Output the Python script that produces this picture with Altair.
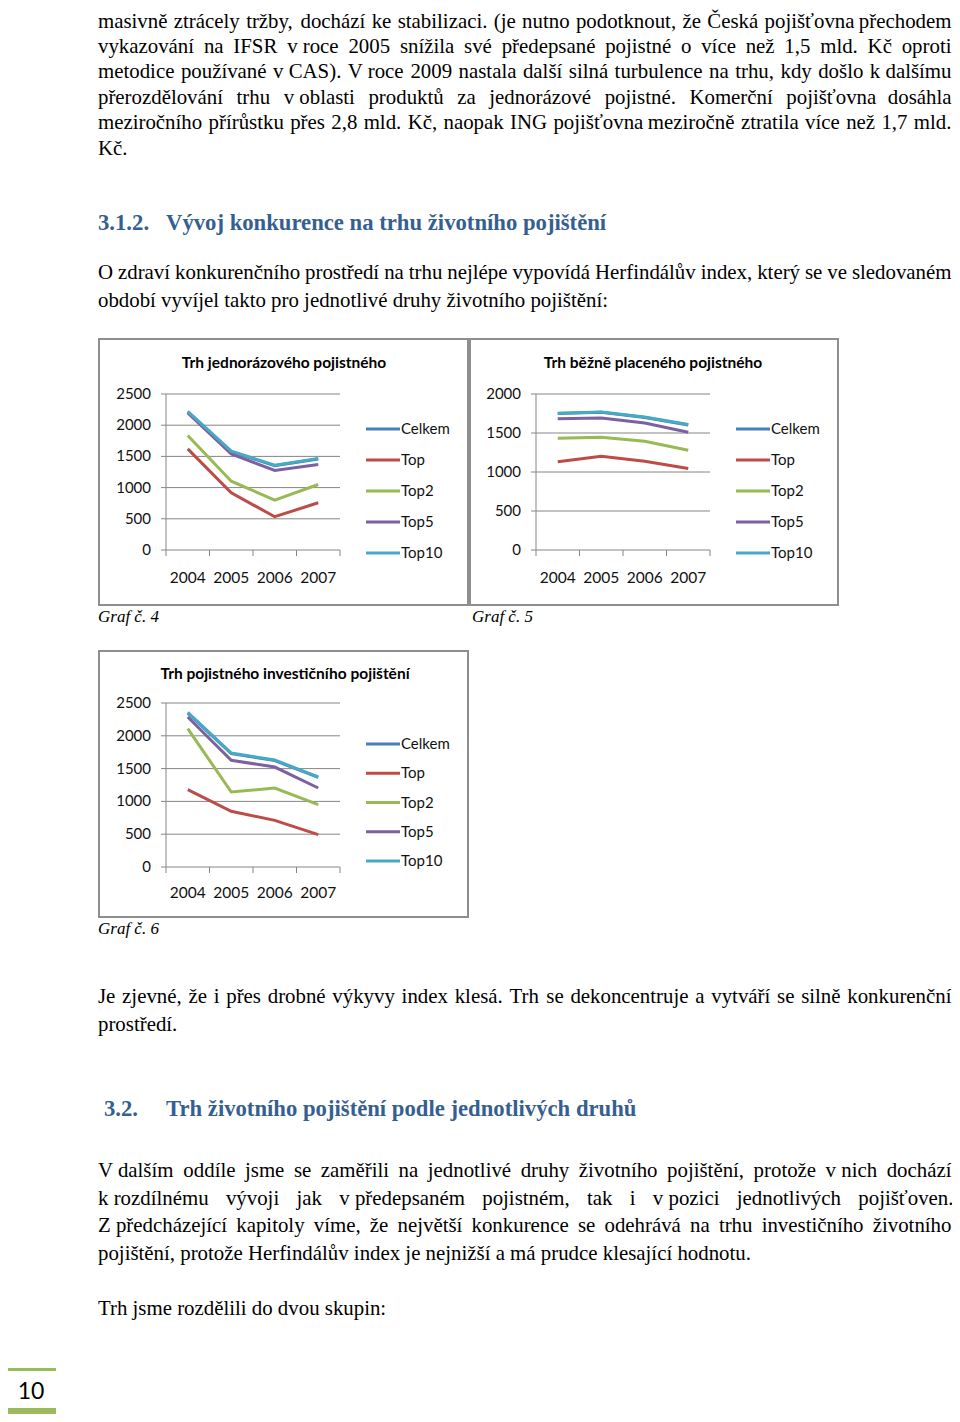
import unicodedata
import altair as alt
import pandas as pd

# ---------------- data ----------------
YEARS = [2004, 2005, 2006, 2007]
SERIES = ["Celkem", "Top", "Top2", "Top5", "Top10"]
COLORS = ["#4A7EBB", "#BE4B48", "#98B954", "#7D60A0", "#46AAC5"]

# Chart 4: Trh jednorázového pojistného
c4_celkem = [2212, 1575, 1352, 1460]
c4_top = [1620, 917, 533, 757]
c4_top2 = [1834, 1103, 800, 1050]
c4_top5 = [2196, 1540, 1274, 1370]
c4_top10 = [2223, 1583, 1359, 1466]

# Chart 5: Trh běžně placeného pojistného
c5_celkem = [1750, 1765, 1700, 1602]
c5_top = [1130, 1203, 1139, 1045]
c5_top2 = [1433, 1446, 1394, 1279]
c5_top5 = [1684, 1693, 1629, 1510]
c5_top10 = [1753, 1770, 1706, 1608]

# Chart 6: Trh pojistného investičního pojištění
c6_celkem = [2345, 1728, 1622, 1365]
c6_top = [1179, 849, 711, 493]
c6_top2 = [2109, 1143, 1204, 950]
c6_top5 = [2287, 1626, 1524, 1204]
c6_top10 = [2358, 1738, 1631, 1372]

TICKS_2500 = [0, 500, 1000, 1500, 2000, 2500]
TICKS_2000 = [0, 500, 1000, 1500, 2000]

TITLE4 = "Trh jednorázového pojistného"
TITLE5 = "Trh běžně placeného pojistného"
TITLE6 = "Trh pojistného investičního pojištění"

PARA1 = [
    "masivně ztrácely tržby, dochází ke stabilizaci. (je nutno podotknout, že Česká pojišťovna přechodem",
    "vykazování na IFSR v roce 2005 snížila své předepsané pojistné o více než 1,5 mld. Kč oproti",
    "metodice používané v CAS). V roce 2009 nastala další silná turbulence na trhu, kdy došlo k dalšímu",
    "přerozdělování trhu v oblasti produktů za jednorázové pojistné. Komerční pojišťovna dosáhla",
    "meziročního přírůstku přes 2,8 mld. Kč, naopak ING pojišťovna meziročně ztratila více než 1,7 mld.",
    "Kč.",
]
HEAD1_NUM = "3.1.2."
HEAD1 = "Vývoj konkurence na trhu životního pojištění"
PARA2 = [
    "O zdraví konkurenčního prostředí na trhu nejlépe vypovídá Herfindálův index, který se ve sledovaném",
    "období vyvíjel takto pro jednotlivé druhy životního pojištění:",
]
CAP4 = "Graf č. 4"
CAP5 = "Graf č. 5"
CAP6 = "Graf č. 6"
PARA3 = [
    "Je zjevné, že i přes drobné výkyvy index klesá. Trh se dekoncentruje a vytváří se silně konkurenční",
    "prostředí.",
]
HEAD2_NUM = "3.2."
HEAD2 = "Trh životního pojištění podle jednotlivých druhů"
PARA4 = [
    "V dalším oddíle jsme se zaměřili na jednotlivé druhy životního pojištění, protože v nich dochází",
    "k rozdílnému vývoji jak v předepsaném pojistném, tak i v pozici jednotlivých pojišťoven.",
    "Z předcházející kapitoly víme, že největší konkurence se odehrává na trhu investičního životního",
    "pojištění, protože Herfindálův index je nejnižší a má prudce klesající hodnotu.",
]
PARA5 = ["Trh jsme rozdělili do dvou skupin:"]
PAGE_NO = "10"

# ---------------- layout helpers ----------------
W, H = 944, 1406


def px(x):
    return x - 8


def py(y):
    return y - 8


ONE = pd.DataFrame({"a": [0]})
SERIF = "Liberation Serif"
SANS = "Lato"
HEAD_COLOR = "#365F91"
GRID = "#868686"
BODY = 20.85
LH = 27.5
LEFT, RIGHT = 98, 951.5

# Times (Liberation Serif) advance widths, per 1000 em, for justification
_TW = {" ": 250, ",": 250, ".": 250, "(": 333, ")": 333, ":": 278, "-": 333,
       "A": 722, "B": 667, "C": 667, "D": 722, "E": 611, "F": 556, "G": 722, "H": 722,
       "I": 333, "J": 389, "K": 722, "L": 611, "M": 889, "N": 722, "O": 722, "P": 556,
       "Q": 722, "R": 667, "S": 556, "T": 611, "U": 722, "V": 722, "W": 944, "X": 722,
       "Y": 722, "Z": 611,
       "a": 444, "b": 500, "c": 444, "d": 500, "e": 444, "f": 333, "g": 500, "h": 500,
       "i": 278, "j": 278, "k": 500, "l": 278, "m": 778, "n": 500, "o": 500, "p": 500,
       "q": 500, "r": 333, "s": 389, "t": 278, "u": 500, "v": 500, "w": 722, "x": 500,
       "y": 500, "z": 444}
_SPECIAL = {"ť": 330, "ď": 590}


def text_width(s, size):
    tot = 0
    for ch in s:
        if ch in _SPECIAL:
            tot += _SPECIAL[ch]
            continue
        base = unicodedata.normalize("NFD", ch)[0]
        tot += _TW.get(base, 500)
    return tot * size / 1000.0


NBSP_WORDS = {"v", "k", "z", "s", "V", "K", "Z", "S"}


def units_of(line):
    words = line.split(" ")
    units, cur = [], None
    for w in words:
        cur = w if cur is None else cur + " " + w
        if w in NBSP_WORDS:
            continue
        units.append(cur)
        cur = None
    if cur is not None:
        units.append(cur)
    return units


def para_rows(lines, baselines, justify=True):
    rows = []
    for i, (line, yb) in enumerate(zip(lines, baselines)):
        yy = py(yb)
        last = i == len(lines) - 1
        if justify and not last:
            units = units_of(line)
            widths = [text_width(u, BODY) for u in units]
            gap = (RIGHT - LEFT - sum(widths)) / (len(units) - 1)
            x = LEFT
            for u, w in zip(units, widths):
                rows.append({"t": u, "xx": px(x), "yy": yy})
                x += w + gap
        else:
            rows.append({"t": line, "xx": px(LEFT), "yy": yy})
    return rows


def baselines_from(y0, n, lh=LH):
    return [y0 + i * lh for i in range(n)]


def text_block(lines, x, y0, size, font=SERIF, weight="normal", style="normal",
               color="#000000", align="left"):
    df = pd.DataFrame({"t": lines, "yy": [py(y0) + i * LH for i in range(len(lines))]})
    return alt.Chart(df).mark_text(
        align=align, baseline="alphabetic", font=font, fontSize=size,
        fontWeight=weight, fontStyle=style, color=color
    ).encode(x=alt.value(px(x)), y=alt.Y("yy:Q", scale=None, axis=None), text="t:N")


def line_chart(title, series_vals, ticks, g):
    out = []
    xs = alt.Scale(domain=[2003.5, 2007.5], range=[px(g["x0"]), px(g["x1"])], nice=False, zero=False)
    ys = alt.Scale(domain=[0, ticks[-1]], range=[py(g["y0"]), py(g["y1"])], nice=False, zero=False)
    fl, ft, fr, fb = g["frame"]
    out.append(alt.Chart(ONE).mark_rect(fill="white", stroke="#8E8E8E", strokeWidth=2).encode(
        x=alt.value(px(fl)), x2=alt.value(px(fr)), y=alt.value(py(ft)), y2=alt.value(py(fb))))
    out.append(alt.Chart(ONE).mark_text(text=title, font=SANS, fontSize=15.5, fontWeight="bold",
                                         align="center", baseline="middle", color="#000000").encode(
        x=alt.value(px(g["tx"])), y=alt.value(py(g["ty"]))))
    tdf = pd.DataFrame({"v": ticks, "lab": [str(t) for t in ticks]})
    out.append(alt.Chart(tdf).mark_rule(color=GRID, strokeWidth=1).encode(
        y=alt.Y("v:Q", scale=ys, axis=None), x=alt.value(px(g["x0"] - 5)), x2=alt.value(px(g["x1"]))))
    out.append(alt.Chart(ONE).mark_rule(color=GRID, strokeWidth=1).encode(
        x=alt.value(px(g["x0"])), y=alt.value(py(g["y0"])), y2=alt.value(py(g["y1"]))))
    out.append(alt.Chart(tdf).mark_text(font=SANS, fontSize=15, align="right", baseline="middle",
                                        color="#111111").encode(
        y=alt.Y("v:Q", scale=ys, axis=None), x=alt.value(px(g["ylx"])), text="lab:N"))
    bdf = pd.DataFrame({"b": [2003.5, 2004.5, 2005.5, 2006.5, 2007.5]})
    out.append(alt.Chart(bdf).mark_rule(color=GRID, strokeWidth=1).encode(
        x=alt.X("b:Q", scale=xs, axis=None), y=alt.value(py(g["y0"])), y2=alt.value(py(g["y0"] + 6))))
    ydf = pd.DataFrame({"yr": YEARS, "lab": [str(y) for y in YEARS]})
    out.append(alt.Chart(ydf).mark_text(font=SANS, fontSize=15.5, align="center", baseline="middle",
                                        color="#111111").encode(
        x=alt.X("yr:Q", scale=xs, axis=None), y=alt.value(py(g["xly"])), text="lab:N"))
    for name, col in zip(SERIES, COLORS):
        df = pd.DataFrame({"yr": YEARS, "v": series_vals[name]})
        out.append(alt.Chart(df).mark_line(color=col, strokeWidth=3).encode(
            x=alt.X("yr:Q", scale=xs, axis=None), y=alt.Y("v:Q", scale=ys, axis=None)))
    ls = alt.Scale(domain=[0, 4], range=[py(g["l0"]), py(g["l4"])], nice=False, zero=False)
    ldf = pd.DataFrame({"i": list(range(5)), "s": SERIES})
    out.append(alt.Chart(ldf).mark_rule(strokeWidth=3).encode(
        y=alt.Y("i:Q", scale=ls, axis=None), x=alt.value(px(g["lx0"])), x2=alt.value(px(g["lx1"])),
        color=alt.Color("s:N", scale=alt.Scale(domain=SERIES, range=COLORS), legend=None)))
    out.append(alt.Chart(ldf).mark_text(font=SANS, fontSize=15, align="left", baseline="middle",
                                        color="#111111").encode(
        y=alt.Y("i:Q", scale=ls, axis=None), x=alt.value(px(g["lx1"] + 1)), text="s:N"))
    return out


G4 = dict(frame=(99, 339, 468, 605), x0=166, x1=340, y0=550, y1=394, tx=284, ty=363,
          ylx=151, xly=578, lx0=366, lx1=400, l0=429, l4=553)
G5 = dict(frame=(470, 339, 838, 605), x0=536, x1=710, y0=550, y1=394, tx=653, ty=363,
          ylx=521, xly=578, lx0=736, lx1=770, l0=429, l4=553)
G6 = dict(frame=(99, 651, 468, 917), x0=166, x1=340, y0=867, y1=703, tx=285, ty=674,
          ylx=151, xly=893, lx0=366, lx1=400, l0=744, l4=861)

layers = []
layers += line_chart(TITLE4, dict(zip(SERIES, [c4_celkem, c4_top, c4_top2, c4_top5, c4_top10])), TICKS_2500, G4)
layers += line_chart(TITLE5, dict(zip(SERIES, [c5_celkem, c5_top, c5_top2, c5_top5, c5_top10])), TICKS_2000, G5)
layers += line_chart(TITLE6, dict(zip(SERIES, [c6_celkem, c6_top, c6_top2, c6_top5, c6_top10])), TICKS_2500, G6)

# body text (justified like the source page)
# first paragraph: the page starts 8px down, so its first line sits a little lower
# and the paragraph is set slightly tighter so that its last line stays in place
P1_TOP, P1_LAST = 27.5, 154.7
b1 = baselines_from(P1_TOP, len(PARA1), (P1_LAST - P1_TOP) / (len(PARA1) - 1))
rows = []
rows += para_rows(PARA1, b1)
rows += para_rows(PARA2, baselines_from(279, len(PARA2)))
rows += para_rows(PARA3, baselines_from(1003, len(PARA3)))
rows += para_rows(PARA4, baselines_from(1177, len(PARA4)))
rows += para_rows(PARA5, baselines_from(1315, len(PARA5)), justify=False)
body_df = pd.DataFrame(rows)
layers.append(alt.Chart(body_df).mark_text(
    align="left", baseline="alphabetic", font=SERIF, fontSize=BODY, color="#000000"
).encode(x=alt.X("xx:Q", scale=None, axis=None), y=alt.Y("yy:Q", scale=None, axis=None), text="t:N"))

layers.append(text_block([HEAD1_NUM], 98, 229.5, 22.7, weight="bold", color=HEAD_COLOR))
layers.append(text_block([HEAD1], 166, 229.5, 22.7, weight="bold", color=HEAD_COLOR))
layers.append(text_block([CAP4], 98, 622, 17, style="italic"))
layers.append(text_block([CAP5], 472, 622, 17, style="italic"))
layers.append(text_block([CAP6], 98, 934, 17, style="italic"))
layers.append(text_block([HEAD2_NUM], 104, 1115.5, 22.7, weight="bold", color=HEAD_COLOR))
layers.append(text_block([HEAD2], 166, 1115.5, 22.7, weight="bold", color=HEAD_COLOR))

# page number block
layers.append(alt.Chart(ONE).mark_rect(color="#9BBB59").encode(
    x=alt.value(px(6)), x2=alt.value(px(56)), y=alt.value(py(1368)), y2=alt.value(py(1371))))
layers.append(alt.Chart(ONE).mark_rect(color="#9BBB59").encode(
    x=alt.value(px(6)), x2=alt.value(px(56)), y=alt.value(py(1408)), y2=alt.value(py(1417))))
layers.append(alt.Chart(ONE).mark_text(text=PAGE_NO, font=SANS, fontSize=23, align="center",
                                        baseline="alphabetic", color="#000000").encode(
    x=alt.value(px(31)), y=alt.value(py(1399))))

chart = alt.layer(*layers).resolve_scale(
    x="independent", y="independent"
).properties(
    width=W, height=H, autosize="none", padding=0
).configure_view(stroke=None)

chart.save("out.html", embed_options={"renderer": "svg", "actions": False})
